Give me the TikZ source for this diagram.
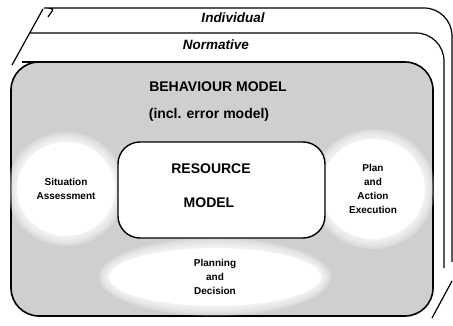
\documentclass[tikz,border=0pt]{standalone}
\usepackage{fontspec}
\setmainfont{Liberation Sans}
\usetikzlibrary{shapes.geometric}
\begin{document}
\begin{tikzpicture}[
    x=1pt, y=-1pt,
    layer/.style={line width=1.2pt, rounded corners=28pt},
    blob/.style={ellipse, fill=white, inner sep=0pt, align=center,
      font=\fontsize{10}{14}\selectfont\bfseries},
    big/.style={font=\fontsize{14}{17}\selectfont\bfseries},
    tag/.style={font=\fontsize{13.5}{16}\selectfont\bfseries\itshape}
  ]
  \useasboundingbox (0,0) rectangle (453,326);
  % sheets behind
  \draw[line width=1.2pt] (12,65) -- (43,9);
  \draw[line width=1.2pt] (432,318) -- (452,281);
  \draw[layer] (48,17) .. controls (52,10) and (58,8) .. (72,8) -- (452,8) -- (452,262);
  \draw[layer] (30,33) -- (444,33) -- (444,268);
  \draw[line width=1.2pt] (22,62) -- (45,62);
  \node[tag] (ind) at (233,18) {Individual};
  \node[tag] (norm) at (216,45) {Normative};
  % behaviour model
  \draw[line width=1.6pt, rounded corners=28pt, fill=black!19] (11,62) rectangle (433,316);
  % soft edges of the white patches
  \foreach \cx/\cy/\rx/\ry in {66/189/49/47, 373/189/52/50, 215/277/106/29} {
    \foreach \k in {1,...,5} {
      \fill[white, opacity=.22] (\cx,\cy) ellipse [x radius=\rx+2*\k, y radius=\ry+2*\k];
    }
  }
  \node[blob, minimum width=98pt, minimum height=94pt] (sit) at (66,189) {Situation\\Assessment};
  \node[blob, minimum width=104pt, minimum height=100pt] (plan) at (373,189) {Plan\\and\\Action\\Execution};
  \node[blob, minimum width=212pt, minimum height=58pt] (dec) at (215,277) {Planning\\and\\Decision};
  \node[draw, line width=1.4pt, fill=white, rounded corners=22pt,
    minimum width=207pt, minimum height=96pt] (res) at (221.5,190) {};
  \node[big] (beh) at (218,87) {BEHAVIOUR MODEL};
  \node[big] (incl) at (209,115) {(incl. error model)};
  \node[big] (rtop) at (211,169) {RESOURCE};
  \node[big] (rbot) at (209,203) {MODEL};
\end{tikzpicture}
\end{document}
